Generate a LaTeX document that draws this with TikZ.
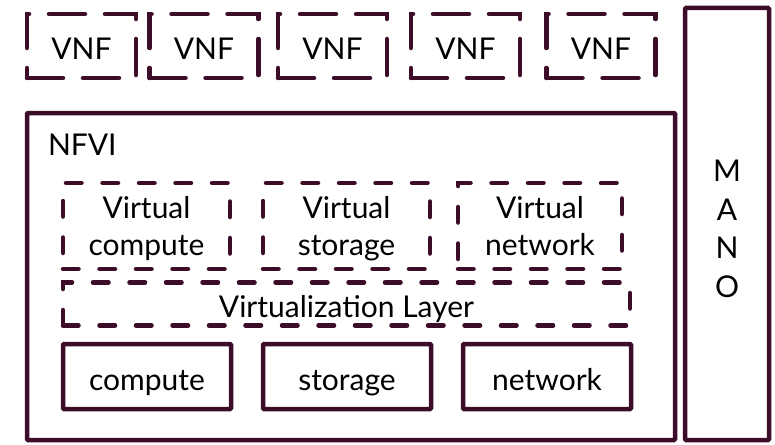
\documentclass[tikz,border=0pt]{standalone}
\usepackage{fontspec}
\setmainfont{Lato}
\definecolor{maroon}{RGB}{60,12,40}
\newcommand\onestrut{\rule[-8pt]{0pt}{43pt}}
\newcommand\topstrut{\rule{0pt}{35pt}}
\newcommand\botstrut{\rule[-14pt]{0pt}{14pt}}
\begin{document}
\begin{tikzpicture}[x=1pt,y=-1pt,
  every node/.style={font=\fontsize{30}{37}\selectfont, inner sep=0pt, outer sep=0pt, text=black},
  solidbox/.style={draw=maroon, line width=4.5pt, rectangle, rounded corners=1pt},
  vnfbox/.style={draw=maroon, line width=4.5pt, line cap=round, dash pattern=on 36pt off 20pt, rectangle, minimum width=109pt, minimum height=64pt},
  innerdash/.style={draw=maroon, line width=4.5pt, line cap=round, dash pattern=on 15.5pt off 21pt, rectangle, align=center}
]
\useasboundingbox (0,0) rectangle (775,444);
% VNFs
\node[vnfbox] (vnf1) at (81.5,46) {\onestrut VNF};
\node[vnfbox] (vnf2) at (204,46) {\onestrut VNF};
\node[vnfbox] (vnf3) at (332.5,46) {\onestrut VNF};
\node[vnfbox] (vnf4) at (465.5,46) {\onestrut VNF};
\node[vnfbox] (vnf5) at (601,46) {\onestrut VNF};
% MANO
\node[solidbox, minimum width=84pt, minimum height=432pt, align=center, font=\fontsize{30}{38.7}\selectfont] (mano) at (727,224) {\topstrut M\\A\\N\\O\rule[-4pt]{0pt}{4pt}};
% NFVI
\node[solidbox, minimum width=648pt, minimum height=327pt] (nfvi) at (351,276.5) {};
\node[anchor=base west] (nfvilabel) at (48,155) {NFVI};
% virtual resources
\node[innerdash, minimum width=167pt, minimum height=83pt] (vcomp) at (146.5,226) {\topstrut Virtual\\compute\botstrut};
\node[innerdash, minimum width=167pt, minimum height=83pt] (vstor) at (346.5,226) {\topstrut Virtual\\storage\botstrut};
\node[innerdash, minimum width=164pt, minimum height=83pt] (vnet) at (540,226) {\topstrut Virtual\\network\botstrut};
% virtualization layer
\node[innerdash, minimum width=567pt, minimum height=42pt] (vlayer) at (346.5,304) {\onestrut Virtualization Layer};
% hardware
\node[solidbox, minimum width=168pt, minimum height=65pt] (comp) at (147,376.5) {\onestrut compute};
\node[solidbox, minimum width=168pt, minimum height=65pt] (stor) at (347,376.5) {\onestrut storage};
\node[solidbox, minimum width=168pt, minimum height=65pt] (net) at (547,376.5) {\onestrut network};
\end{tikzpicture}
\end{document}
